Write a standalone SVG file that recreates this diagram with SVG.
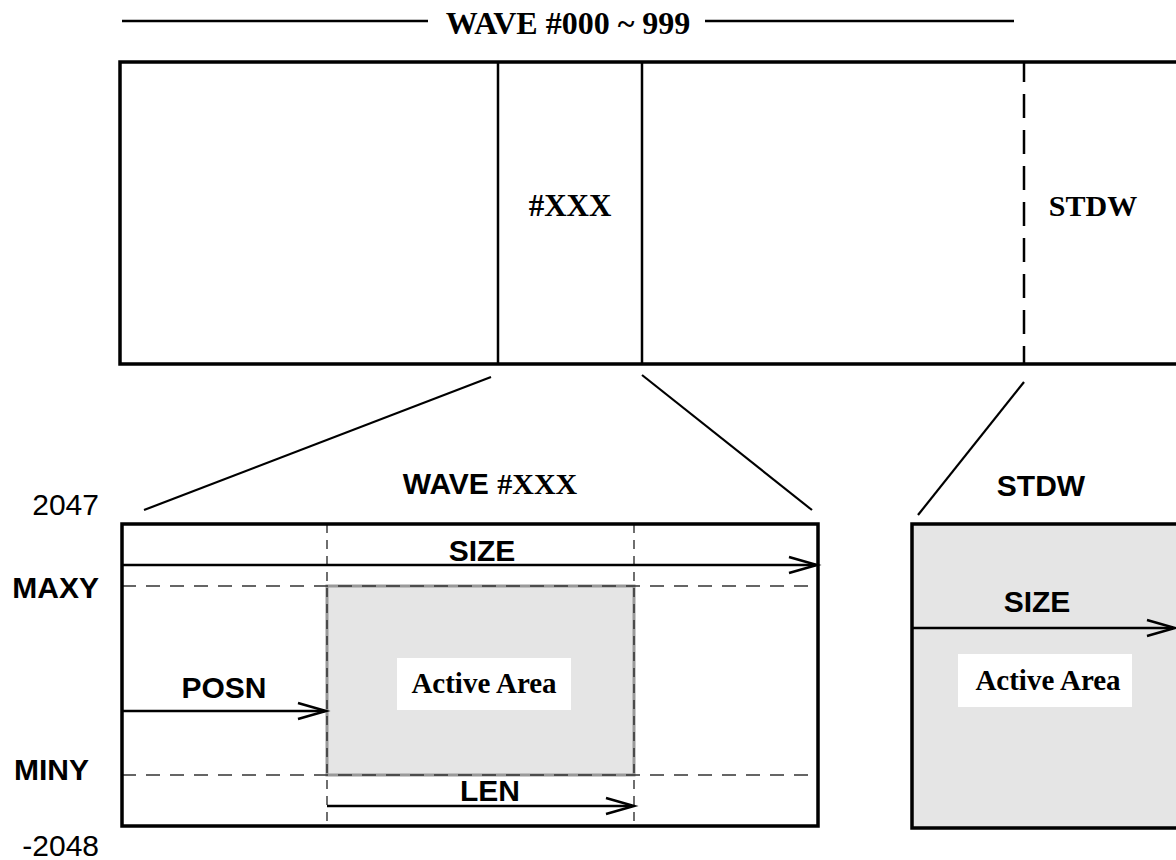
<svg xmlns="http://www.w3.org/2000/svg" width="1176" height="860" viewBox="0 0 1176 860">
<style>
.ser{font-family:"Liberation Serif","Times New Roman",serif;font-weight:bold;fill:#000}
.san{font-family:"Liberation Sans",Arial,sans-serif;font-weight:bold;fill:#000}
.reg{font-family:"Liberation Sans",Arial,sans-serif;fill:#000}
.thick{fill:none;stroke:#000;stroke-width:3.5}
.ln{fill:none;stroke:#000;stroke-width:2.5}
.conn{fill:none;stroke:#000;stroke-width:2.2}
.dv{fill:none;stroke:#222;stroke-width:1.3;stroke-dasharray:9 7}
.dh{fill:none;stroke:#333;stroke-width:1.4;stroke-dasharray:14 10}
.arr{fill:none;stroke:#000;stroke-width:2.5}
.head{fill:none;stroke:#000;stroke-width:2.5;stroke-linejoin:miter}
.gray{fill:#e5e5e5}
.lbl{fill:#fff}
</style>
<rect width="1176" height="860" fill="#fff"/>

<g id="header">
<line class="ln" x1="122" y1="21" x2="428" y2="21"/>
<line class="ln" x1="705" y1="21" x2="1014" y2="21"/>
<text class="ser" x="568" y="34" font-size="32" text-anchor="middle">WAVE #000 ~ 999</text>
</g>

<g id="wave-table">
<path class="thick" d="M1180 62 H120 V364 H1180"/>
<line class="ln" x1="498" y1="62" x2="498" y2="364" stroke-width="3"/>
<line class="ln" x1="642" y1="62" x2="642" y2="364" stroke-width="3"/>
<line class="ln" x1="1024" y1="62" x2="1024" y2="364" stroke-dasharray="24 12" stroke-dashoffset="4"/>
<text class="ser" x="570" y="216" font-size="31" text-anchor="middle">#XXX</text>
<text class="ser" x="1093" y="216" font-size="30" text-anchor="middle">STDW</text>
</g>

<g id="connectors">
<line class="conn" x1="491" y1="377" x2="144" y2="510"/>
<line class="conn" x1="642" y1="375" x2="812" y2="510"/>
<line class="conn" x1="1024" y1="382" x2="918" y2="515"/>
</g>

<g id="axis-labels">
<text class="reg" x="99" y="515" font-size="30" text-anchor="end">2047</text>
<text class="san" x="99" y="598" font-size="30" text-anchor="end">MAXY</text>
<text class="san" x="14" y="780" font-size="30">MINY</text>
<text class="reg" x="99" y="856" font-size="30" text-anchor="end">-2048</text>
</g>

<g id="wave-xxx">
<text x="490" y="494" font-size="30" text-anchor="middle"><tspan class="san">WAVE </tspan><tspan class="ser">#XXX</tspan></text>
<rect class="gray" x="327" y="586" width="307" height="189" stroke="#999" stroke-width="3"/>
<line class="dv" x1="327" y1="524" x2="327" y2="826"/>
<line class="dv" x1="634" y1="524" x2="634" y2="826"/>
<line class="dh" x1="122" y1="586" x2="818" y2="586"/>
<line class="dh" x1="122" y1="775" x2="818" y2="775"/>
<rect class="thick" x="122" y="524" width="696" height="302" stroke-width="3.5"/>
<rect class="lbl" x="397" y="658" width="174" height="52"/>
<text class="ser" x="484" y="693" font-size="29" text-anchor="middle">Active Area</text>
<line class="arr" x1="122" y1="565" x2="816" y2="565"/>
<path class="head" d="M789 557 L817 565 L789 573"/>
<text class="san" x="482" y="561" font-size="30" text-anchor="middle">SIZE</text>
<line class="arr" x1="122" y1="711" x2="325" y2="711"/>
<path class="head" d="M298 703 L326 711 L298 719"/>
<text class="san" x="224" y="698" font-size="30" text-anchor="middle">POSN</text>
<line class="arr" x1="327" y1="806" x2="632" y2="806"/>
<path class="head" d="M606 798 L634 806 L606 814"/>
<text class="san" x="490" y="801" font-size="30" text-anchor="middle">LEN</text>
</g>

<g id="stdw">
<text class="san" x="1041" y="496" font-size="30" text-anchor="middle">STDW</text>
<path class="gray" d="M1180 524 H912 V828 H1180 Z"/>
<path class="thick" d="M1180 524 H912 V828 H1180" stroke-width="3"/>
<line class="arr" x1="912" y1="628" x2="1173" y2="628"/>
<path class="head" d="M1147 620 L1175 628 L1147 636"/>
<text class="san" x="1037" y="612" font-size="30" text-anchor="middle">SIZE</text>
<rect class="lbl" x="958" y="654" width="174" height="53"/>
<text class="ser" x="1048" y="690" font-size="29" text-anchor="middle">Active Area</text>
</g>
</svg>
